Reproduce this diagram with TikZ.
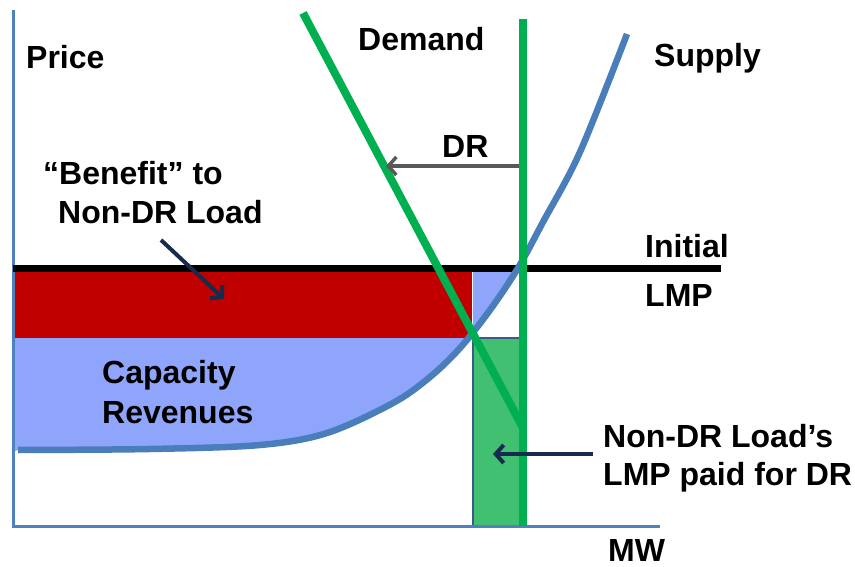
\documentclass[tikz,border=0pt]{standalone}
\usepackage{fontspec}
\setmainfont{Liberation Sans}
\usetikzlibrary{arrows.meta}
\definecolor{axisblue}{RGB}{79,129,189}
\definecolor{supplyblue}{RGB}{74,126,187}
\definecolor{lightblue}{RGB}{143,165,252}
\definecolor{darkred}{RGB}{192,0,0}
\definecolor{dgreen}{RGB}{0,176,80}
\definecolor{rectgreen}{RGB}{64,192,112}
\definecolor{outlineblue}{RGB}{56,93,138}
\definecolor{navy}{RGB}{23,43,77}
\definecolor{dgrey}{RGB}{89,89,89}
\begin{document}
\begin{tikzpicture}[x=1pt,y=-1pt,
  lbl/.style={anchor=base west,inner sep=0pt,font=\fontsize{32}{37}\selectfont\bfseries},
  axisline/.style={draw=axisblue,line width=3pt},
  greenline/.style={draw=dgreen,line width=8pt},
  callout/.style={draw=navy,line width=4pt,-{Straight Barb[length=8pt,width=18pt]}},
  drarrow/.style={draw=dgrey,line width=3.5pt,-{Straight Barb[length=8pt,width=18pt]}}]
\useasboundingbox (0,0) rectangle (855,567);
% fills clipped to the region above the supply curve
\begin{scope}
  \clip (12,452) -- plot[smooth,tension=0.55] coordinates {(18,450) (150,449) (260,445) (327,433) (393,403) (430,377) (460,348) (490,310) (518,268) (543,222) (580,152) (627,34)} -- (627,0) -- (12,0) -- cycle;
  \fill[lightblue] (13,338) rectangle (473,460);
  \fill[lightblue] (473,268) rectangle (523,338);
\end{scope}
\fill[darkred] (13,268) rectangle (472,338);
% green rectangle
\fill[rectgreen] (473,338) rectangle (523,526);
\draw[outlineblue,line width=2.5pt] (473,526) -- (473,338) -- (523,338);
% axes
\coordinate (origin) at (13,526);
\coordinate (ytop) at (13,10);
\coordinate (xend) at (660,526);
\draw[axisline] (ytop) -- (origin) -- (xend);
% initial LMP line
\coordinate (lmpL) at (13,268);
\coordinate (lmpR) at (721,268);
\draw[black,line width=7pt] (lmpL) -- (lmpR);
% supply curve
\draw[supplyblue,line width=6.5pt] plot[smooth,tension=0.55] coordinates {(18,450) (150,449) (260,445) (327,433) (393,403) (430,377) (460,348) (490,310) (518,268) (543,222) (580,152) (627,34)};
% demand lines
\coordinate (d1top) at (303,13);
\coordinate (d1bot) at (523,428);
\coordinate (d2top) at (523,19);
\coordinate (d2bot) at (523,526);
\draw[greenline] (d1top) -- (d1bot);
\draw[greenline] (d2top) -- (d2bot);
% DR arrow
\coordinate (drS) at (519,166);
\coordinate (drE) at (386,166);
\draw[drarrow] (drS) -- (drE);
% callout arrows
\coordinate (bS) at (161,240);
\coordinate (bE) at (224,299);
\draw[callout] (bS) -- (bE);
\coordinate (pS) at (593,454);
\coordinate (pE) at (493,454);
\draw[callout] (pS) -- (pE);
% labels
\node[lbl] (price) at (26,69) {Price};
\node[lbl] (demand) at (358,51) {Demand};
\node[lbl] (supply) at (654,67) {Supply};
\node[lbl] (dr) at (442,158) {DR};
\node[lbl] (ben1) at (43,185) {“Benefit” to};
\node[lbl] (ben2) at (58,223) {Non-DR Load};
\node[lbl] (init) at (645,258) {Initial};
\node[lbl] (lmp) at (645,306) {LMP};
\node[lbl] (cap1) at (102,383) {Capacity};
\node[lbl] (cap2) at (102,423) {Revenues};
\node[lbl] (nd1) at (603,447) {Non-DR Load’s};
\node[lbl] (nd2) at (603,485) {LMP paid for DR};
\node[lbl] (mw) at (608,561) {MW};
\end{tikzpicture}
\end{document}
